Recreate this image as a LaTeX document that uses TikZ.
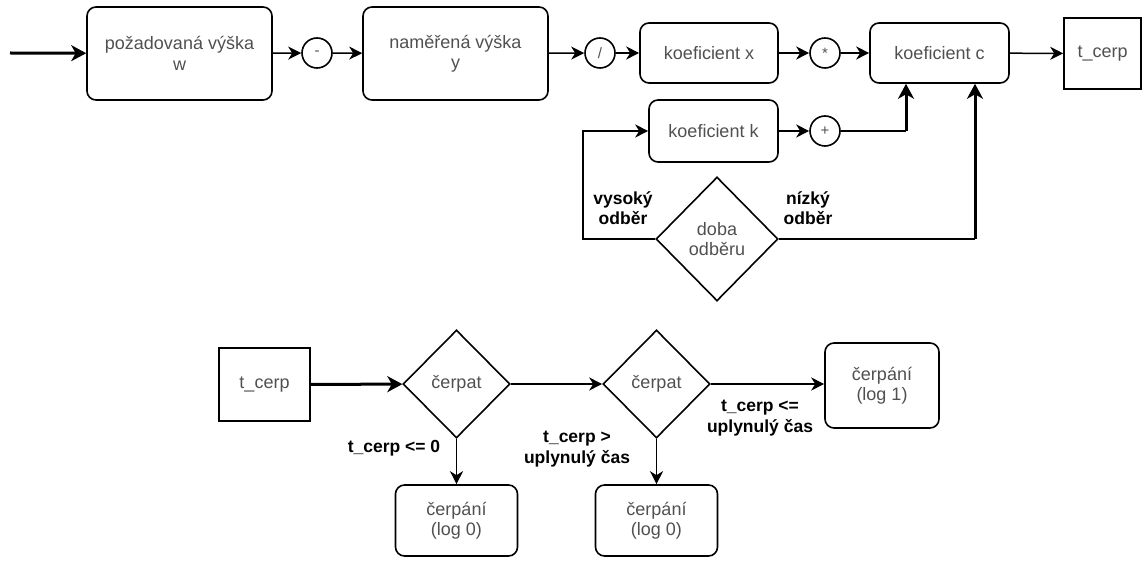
\documentclass[tikz,border=0pt]{standalone}
\usepackage{fontspec}
\setmainfont{Liberation Sans}
\usetikzlibrary{arrows.meta,shapes.geometric}
\definecolor{txtgray}{RGB}{80,80,80}
\tikzset{
  base/.style={draw=black,line width=1.6pt,text=txtgray,align=center,inner sep=0pt,font=\fontsize{18}{20.5}\selectfont},
  rbox/.style={base,rounded corners=9pt},
  sbox/.style={base},
  op/.style={base,circle,minimum size=30pt,font=\fontsize{15}{16}\selectfont},
  dec/.style={base,diamond,minimum width=107pt,minimum height=108pt},
  lab/.style={align=center,font=\fontsize{17.5}{20.5}\selectfont\bfseries,text=black,inner sep=0pt},
  tip/.style={-{Stealth[length=13pt,width=13pt,inset=4pt]}},
  thin/.style={tip,line width=1.5pt},
  thick/.style={-{Stealth[length=15pt,width=16pt,inset=4.5pt]},line width=3pt},
}
\begin{document}
\begin{tikzpicture}[x=1pt,y=-1pt]
\useasboundingbox (0,0) rectangle (1143,561);
% top row
\coordinate (in) at (10,53);
\node[rbox,minimum width=185pt,minimum height=93pt] (w) at (179.5,53.5) {požadovaná výška\\w};
\node[op] (minus) at (317,53) {-};
\node[rbox,minimum width=185pt,minimum height=93pt] (y) at (455.5,53.5) {naměřená výška\\y};
\node[op] (div) at (600,53) {/};
\node[rbox,minimum width=138pt,minimum height=60pt] (kx) at (709,53) {koeficient x};
\node[op] (mul) at (825,53) {*};
\node[rbox,minimum width=139pt,minimum height=60pt] (kc) at (939.5,53) {koeficient c};
\node[sbox,minimum width=77pt,minimum height=71pt] (tc) at (1102.5,53.5) {t\_cerp};
\node[rbox,minimum width=129pt,minimum height=62pt] (kk) at (713.5,131) {koeficient k};
\node[op] (plus) at (825,131) {+};
\node[dec,minimum width=122pt,minimum height=124pt] (doba) at (717,239) {doba\\odběru};
\coordinate (c1) at (906,131);
\coordinate (c2) at (583,239);
\coordinate (c3) at (975,239);
\node[lab] (vys) at (623,208) {vysoký\\odběr};
\node[lab] (niz) at (808,208) {nízký\\odběr};

\draw[thick] (in) -- (w);
\draw[thin] (w) -- (minus);
\draw[thin] (minus) -- (y);
\draw[thin] (y) -- (div);
\draw[thin] (div) -- (kx);
\draw[thin] (kx) -- (mul);
\draw[thin] (mul) -- (kc);
\draw[thin] (kc) -- (tc);
\draw[thin] (kk) -- (plus);
\draw[line width=1.5pt] (plus.east) -- (c1);
\draw[thick] (c1) -- (kc.south -| c1);
\draw[thin] (doba.west) -- (c2) |- (kk.west);
\draw[line width=1.5pt] (doba.east) -- (c3);
\draw[thick] (c3) -- (kc.south -| c3);

% bottom
\node[sbox,minimum width=91pt,minimum height=73pt] (tc2) at (264.5,384.5) {t\_cerp};
\node[dec] (d1) at (456.5,384) {čerpat};
\node[rbox,minimum width=122pt,minimum height=71pt] (low1) at (456.5,520.5) {čerpání\\(log 0)};
\node[dec] (d2) at (656.5,384) {čerpat};
\node[rbox,minimum width=122pt,minimum height=71pt] (low2) at (656.5,520.5) {čerpání\\(log 0)};
\node[rbox,minimum width=114pt,minimum height=85pt] (log1) at (882,385.5) {čerpání\\(log 1)};
\node[lab] (l1) at (394,448) {t\_cerp <= 0};
\node[lab] (l2) at (577,449) {t\_cerp >\\uplynulý čas};
\node[lab] (l3) at (760,418) {t\_cerp <=\\uplynulý čas};

\draw[thick] (tc2) -- (d1);
\draw[thin] (d1) -- (d2);
\draw[thin] (d1.south) -- (low1.north);
\draw[thin] (d2.south) -- (low2.north);
\draw[thin] (d2.east) -- (log1.west |- d2.east);
\end{tikzpicture}
\end{document}
